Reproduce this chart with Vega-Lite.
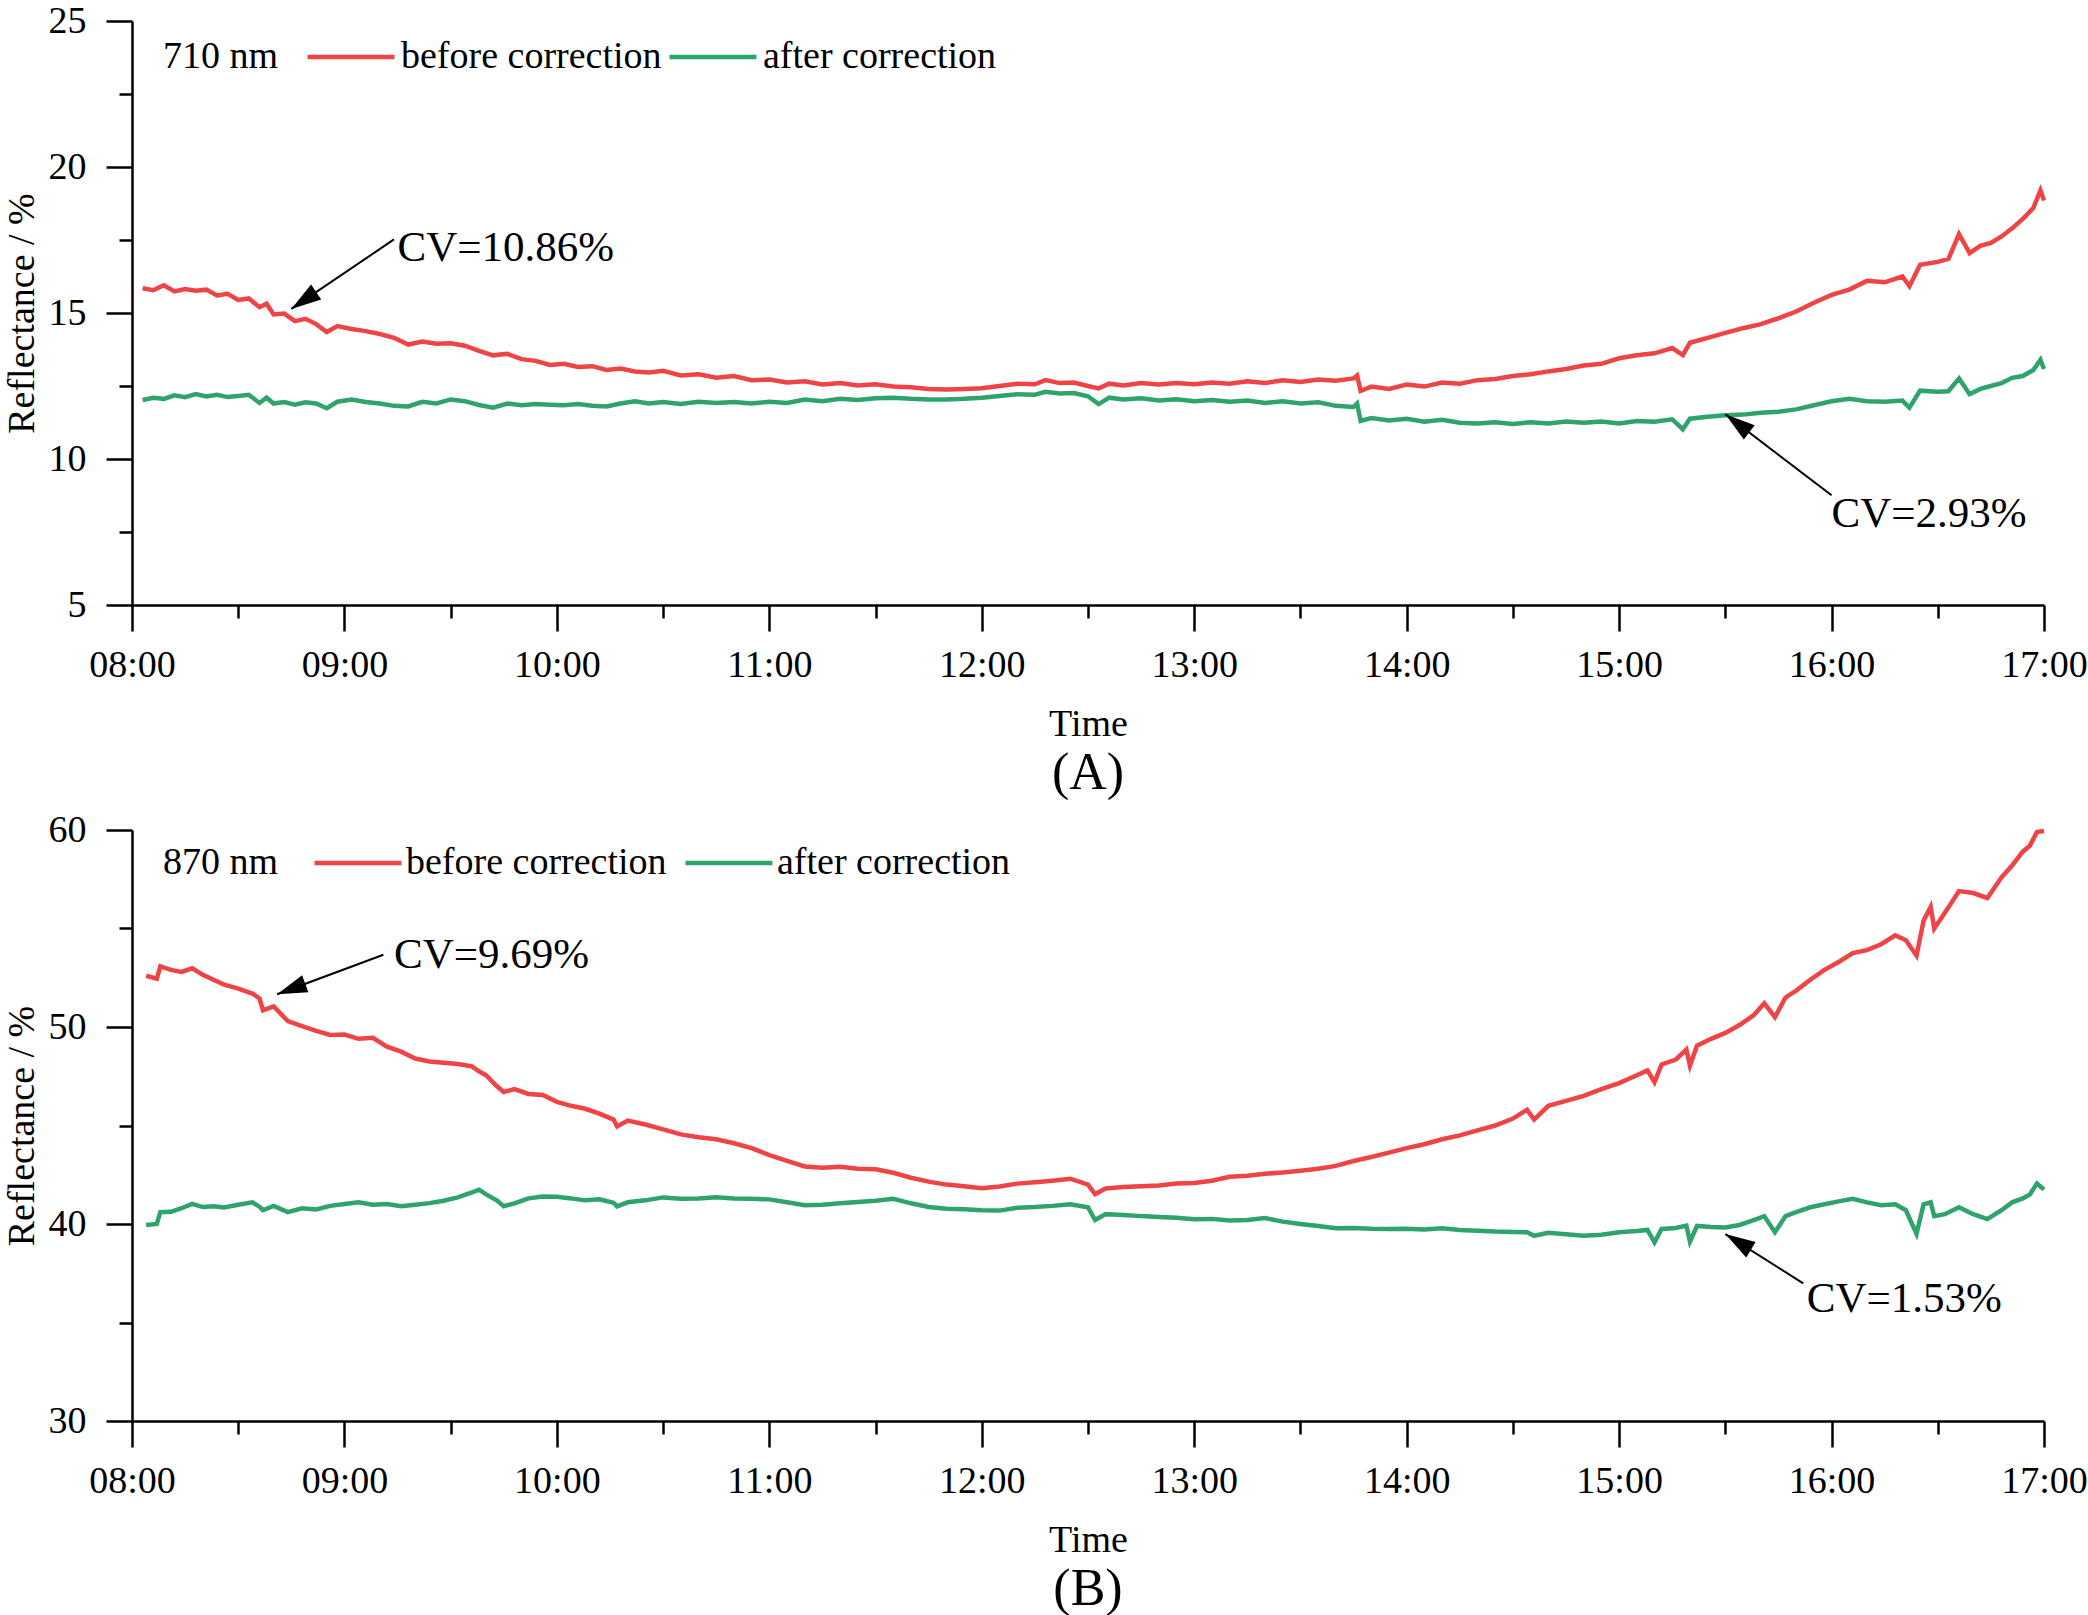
{
  "$schema": "https://vega.github.io/schema/vega-lite/v6.json",
  "background": "white",
  "padding": {"left": 3, "top": 2, "right": 0, "bottom": 0},
  "spacing": 12,
  "config": {
    "font": "Liberation Serif",
    "view": {"stroke": null},
    "axis": {
      "grid": false,
      "domainColor": "black",
      "domainWidth": 2.5,
      "tickColor": "black",
      "tickWidth": 2.5,
      "tickSize": 26,
      "labelColor": "black",
      "labelFont": "Liberation Serif",
      "labelFontSize": 38,
      "titleColor": "black",
      "titleFont": "Liberation Serif",
      "titleFontSize": 38,
      "titleFontWeight": "normal"
    },
    "legend": {
      "direction": "horizontal",
      "symbolType": "M-2.5,0H2.5",
      "symbolSize": 1211,
      "symbolStrokeWidth": 4.5,
      "labelFont": "Liberation Serif",
      "labelFontSize": 38,
      "labelColor": "black",
      "labelLimit": 0,
      "titleFont": "Liberation Serif",
      "titleFontSize": 38,
      "titleFontWeight": "normal",
      "titleColor": "black",
      "titleOrient": "left"
    },
    "title": {"font": "Liberation Serif", "fontSize": 52, "fontWeight": "normal", "color": "black"}
  },
  "vconcat": [
    {
      "width": 1912,
      "height": 584,
      "title": {"text": "(A)", "orient": "bottom", "offset": 5},
      "data": {
        "format": {"parse": {"time": "utc:'%H:%M'"}},
        "values": [
          {"time": "08:03", "before": 15.85, "after": 12.02},
          {"time": "08:06", "before": 15.78, "after": 12.10},
          {"time": "08:09", "before": 15.95, "after": 12.06},
          {"time": "08:12", "before": 15.74, "after": 12.18},
          {"time": "08:15", "before": 15.82, "after": 12.12},
          {"time": "08:18", "before": 15.76, "after": 12.22},
          {"time": "08:21", "before": 15.80, "after": 12.14},
          {"time": "08:24", "before": 15.60, "after": 12.20},
          {"time": "08:27", "before": 15.66, "after": 12.12},
          {"time": "08:30", "before": 15.45, "after": 12.16},
          {"time": "08:33", "before": 15.50, "after": 12.20},
          {"time": "08:36", "before": 15.20, "after": 11.92},
          {"time": "08:38", "before": 15.32, "after": 12.10},
          {"time": "08:40", "before": 14.95, "after": 11.90},
          {"time": "08:43", "before": 14.98, "after": 11.95},
          {"time": "08:46", "before": 14.72, "after": 11.86},
          {"time": "08:49", "before": 14.80, "after": 11.94},
          {"time": "08:52", "before": 14.62, "after": 11.90},
          {"time": "08:55", "before": 14.35, "after": 11.74},
          {"time": "08:58", "before": 14.55, "after": 11.96},
          {"time": "09:02", "before": 14.45, "after": 12.04},
          {"time": "09:06", "before": 14.38, "after": 11.95},
          {"time": "09:10", "before": 14.28, "after": 11.90},
          {"time": "09:14", "before": 14.15, "after": 11.82},
          {"time": "09:18", "before": 13.92, "after": 11.80},
          {"time": "09:22", "before": 14.02, "after": 11.96},
          {"time": "09:26", "before": 13.95, "after": 11.90},
          {"time": "09:30", "before": 13.96, "after": 12.04},
          {"time": "09:34", "before": 13.88, "after": 11.98},
          {"time": "09:38", "before": 13.70, "after": 11.85},
          {"time": "09:42", "before": 13.55, "after": 11.76},
          {"time": "09:46", "before": 13.60, "after": 11.90},
          {"time": "09:50", "before": 13.42, "after": 11.84},
          {"time": "09:54", "before": 13.36, "after": 11.88},
          {"time": "09:58", "before": 13.22, "after": 11.86},
          {"time": "10:02", "before": 13.26, "after": 11.84},
          {"time": "10:06", "before": 13.15, "after": 11.88},
          {"time": "10:10", "before": 13.18, "after": 11.82},
          {"time": "10:14", "before": 13.05, "after": 11.80},
          {"time": "10:18", "before": 13.10, "after": 11.90},
          {"time": "10:22", "before": 13.00, "after": 11.98},
          {"time": "10:26", "before": 12.96, "after": 11.90},
          {"time": "10:30", "before": 13.02, "after": 11.95},
          {"time": "10:35", "before": 12.86, "after": 11.88},
          {"time": "10:40", "before": 12.90, "after": 11.96},
          {"time": "10:45", "before": 12.78, "after": 11.92},
          {"time": "10:50", "before": 12.84, "after": 11.95},
          {"time": "10:55", "before": 12.70, "after": 11.90},
          {"time": "11:00", "before": 12.72, "after": 11.96},
          {"time": "11:05", "before": 12.62, "after": 11.92},
          {"time": "11:10", "before": 12.66, "after": 12.04},
          {"time": "11:15", "before": 12.55, "after": 11.98},
          {"time": "11:20", "before": 12.60, "after": 12.06},
          {"time": "11:25", "before": 12.52, "after": 12.02},
          {"time": "11:30", "before": 12.56, "after": 12.08},
          {"time": "11:35", "before": 12.48, "after": 12.10},
          {"time": "11:40", "before": 12.46, "after": 12.06},
          {"time": "11:45", "before": 12.40, "after": 12.04},
          {"time": "11:50", "before": 12.38, "after": 12.04},
          {"time": "11:55", "before": 12.40, "after": 12.06},
          {"time": "12:00", "before": 12.42, "after": 12.10},
          {"time": "12:05", "before": 12.50, "after": 12.16},
          {"time": "12:10", "before": 12.58, "after": 12.22},
          {"time": "12:15", "before": 12.56, "after": 12.20},
          {"time": "12:18", "before": 12.70, "after": 12.30},
          {"time": "12:22", "before": 12.60, "after": 12.24},
          {"time": "12:26", "before": 12.62, "after": 12.26},
          {"time": "12:30", "before": 12.50, "after": 12.15},
          {"time": "12:33", "before": 12.42, "after": 11.88},
          {"time": "12:36", "before": 12.58, "after": 12.10},
          {"time": "12:40", "before": 12.52, "after": 12.04},
          {"time": "12:45", "before": 12.60, "after": 12.08},
          {"time": "12:50", "before": 12.55, "after": 12.00},
          {"time": "12:55", "before": 12.60, "after": 12.05},
          {"time": "13:00", "before": 12.56, "after": 11.98},
          {"time": "13:05", "before": 12.62, "after": 12.02},
          {"time": "13:10", "before": 12.58, "after": 11.96},
          {"time": "13:15", "before": 12.66, "after": 12.00},
          {"time": "13:20", "before": 12.60, "after": 11.92},
          {"time": "13:25", "before": 12.70, "after": 11.98},
          {"time": "13:30", "before": 12.64, "after": 11.90},
          {"time": "13:35", "before": 12.72, "after": 11.94},
          {"time": "13:40", "before": 12.68, "after": 11.82},
          {"time": "13:45", "before": 12.76, "after": 11.78},
          {"time": "13:46", "before": 12.86, "after": 11.90},
          {"time": "13:47", "before": 12.33, "after": 11.30},
          {"time": "13:50", "before": 12.48, "after": 11.40},
          {"time": "13:55", "before": 12.40, "after": 11.32},
          {"time": "14:00", "before": 12.55, "after": 11.38},
          {"time": "14:05", "before": 12.48, "after": 11.28},
          {"time": "14:10", "before": 12.62, "after": 11.34},
          {"time": "14:15", "before": 12.58, "after": 11.24},
          {"time": "14:20", "before": 12.70, "after": 11.22},
          {"time": "14:25", "before": 12.74, "after": 11.26},
          {"time": "14:30", "before": 12.84, "after": 11.20},
          {"time": "14:35", "before": 12.90, "after": 11.26},
          {"time": "14:40", "before": 13.00, "after": 11.22},
          {"time": "14:45", "before": 13.08, "after": 11.28},
          {"time": "14:50", "before": 13.20, "after": 11.24},
          {"time": "14:55", "before": 13.26, "after": 11.28},
          {"time": "15:00", "before": 13.45, "after": 11.22},
          {"time": "15:05", "before": 13.55, "after": 11.30},
          {"time": "15:10", "before": 13.62, "after": 11.28},
          {"time": "15:15", "before": 13.80, "after": 11.36},
          {"time": "15:18", "before": 13.56, "after": 11.02},
          {"time": "15:20", "before": 13.98, "after": 11.38},
          {"time": "15:25", "before": 14.15, "after": 11.45},
          {"time": "15:30", "before": 14.32, "after": 11.50},
          {"time": "15:35", "before": 14.48, "after": 11.52},
          {"time": "15:40", "before": 14.62, "after": 11.58},
          {"time": "15:45", "before": 14.82, "after": 11.62},
          {"time": "15:50", "before": 15.05, "after": 11.70},
          {"time": "15:55", "before": 15.35, "after": 11.84},
          {"time": "16:00", "before": 15.62, "after": 11.98},
          {"time": "16:05", "before": 15.80, "after": 12.06},
          {"time": "16:10", "before": 16.10, "after": 11.98},
          {"time": "16:15", "before": 16.05, "after": 11.96},
          {"time": "16:20", "before": 16.25, "after": 12.00},
          {"time": "16:22", "before": 15.92, "after": 11.76},
          {"time": "16:25", "before": 16.65, "after": 12.34},
          {"time": "16:30", "before": 16.75, "after": 12.30},
          {"time": "16:33", "before": 16.85, "after": 12.32},
          {"time": "16:36", "before": 17.70, "after": 12.76},
          {"time": "16:39", "before": 17.05, "after": 12.22},
          {"time": "16:42", "before": 17.30, "after": 12.40},
          {"time": "16:45", "before": 17.40, "after": 12.50},
          {"time": "16:48", "before": 17.62, "after": 12.60},
          {"time": "16:51", "before": 17.90, "after": 12.78},
          {"time": "16:54", "before": 18.22, "after": 12.84},
          {"time": "16:57", "before": 18.60, "after": 13.05},
          {"time": "16:59", "before": 19.20, "after": 13.40},
          {"time": "17:00", "before": 18.85, "after": 13.08}
        ]
      },
      "layer": [
        {
          "transform": [{"fold": ["before", "after"], "as": ["series", "value"]}],
          "mark": {"type": "line", "strokeWidth": 4.5},
          "encoding": {
            "x": {
              "field": "time",
              "type": "temporal",
              "scale": {"type": "utc", "nice": false, "domain": [{"year": 1900, "month": 1, "date": 1, "hours": 8, "utc": true}, {"year": 1900, "month": 1, "date": 1, "hours": 17, "utc": true}]},
              "axis": {
                "title": "Time",
                "format": "%H:%M",
                "values": [
                  {"year": 1900, "month": 1, "date": 1, "hours": 8, "utc": true},
                  {"year": 1900, "month": 1, "date": 1, "hours": 8, "minutes": 30, "utc": true},
                  {"year": 1900, "month": 1, "date": 1, "hours": 9, "utc": true},
                  {"year": 1900, "month": 1, "date": 1, "hours": 9, "minutes": 30, "utc": true},
                  {"year": 1900, "month": 1, "date": 1, "hours": 10, "utc": true},
                  {"year": 1900, "month": 1, "date": 1, "hours": 10, "minutes": 30, "utc": true},
                  {"year": 1900, "month": 1, "date": 1, "hours": 11, "utc": true},
                  {"year": 1900, "month": 1, "date": 1, "hours": 11, "minutes": 30, "utc": true},
                  {"year": 1900, "month": 1, "date": 1, "hours": 12, "utc": true},
                  {"year": 1900, "month": 1, "date": 1, "hours": 12, "minutes": 30, "utc": true},
                  {"year": 1900, "month": 1, "date": 1, "hours": 13, "utc": true},
                  {"year": 1900, "month": 1, "date": 1, "hours": 13, "minutes": 30, "utc": true},
                  {"year": 1900, "month": 1, "date": 1, "hours": 14, "utc": true},
                  {"year": 1900, "month": 1, "date": 1, "hours": 14, "minutes": 30, "utc": true},
                  {"year": 1900, "month": 1, "date": 1, "hours": 15, "utc": true},
                  {"year": 1900, "month": 1, "date": 1, "hours": 15, "minutes": 30, "utc": true},
                  {"year": 1900, "month": 1, "date": 1, "hours": 16, "utc": true},
                  {"year": 1900, "month": 1, "date": 1, "hours": 16, "minutes": 30, "utc": true},
                  {"year": 1900, "month": 1, "date": 1, "hours": 17, "utc": true}
                ],
                "labelExpr": "utcminutes(datum.value) === 0 ? datum.label : ''",
                "tickDash": {"condition": {"test": "utcminutes(datum.value) === 0", "value": []}, "value": [13, 60]},
                "labelPadding": 15,
                "labelFlush": false,
                "labelOverlap": false,
                "titlePadding": 21
              }
            },
            "y": {
              "field": "value",
              "type": "quantitative",
              "scale": {"domain": [5, 25], "nice": false, "zero": false},
              "axis": {
                "title": "Reflectance / %",
                "values": [5, 7.5, 10, 12.5, 15, 17.5, 20, 22.5, 25],
                "labelExpr": "datum.value % 5 === 0 ? datum.label : ''",
                "tickDash": {"condition": {"test": "datum.value % 5 === 0", "value": []}, "value": [13, 60]},
                "labelPadding": 20,
                "titlePadding": 7
              }
            },
            "color": {
              "field": "series",
              "type": "nominal",
              "scale": {"domain": ["before", "after"], "range": ["#EF4446", "#2FA36C"]},
              "legend": {"title": "710 nm", "orient": "none", "legendX": 31, "legendY": 16, "titlePadding": 52, "labelOffset": 30, "columnPadding": -2, "labelExpr": "datum.label + ' correction'"}
            }
          }
        },
        {
          "data": {
            "format": {"parse": {"time": "utc:'%H:%M'", "t1": "utc:'%H:%M'", "t2": "utc:'%H:%M'"}},
            "values": [
              {"label": "CV=10.86%", "time": "09:15", "value": 17.24, "t1": "09:14", "v1": 17.52, "t2": "08:45", "v2": 15.14},
              {"label": "CV=2.93%", "time": "16:00", "value": 8.10, "t1": "16:00", "v1": 8.76, "t2": "15:30", "v2": 11.53}
            ]
          },
          "layer": [
            {
              "mark": {"type": "rule", "color": "black", "strokeWidth": 2},
              "encoding": {
                "x": {"field": "t1", "type": "temporal"},
                "y": {"field": "v1", "type": "quantitative"},
                "x2": {"field": "t2"},
                "y2": {"field": "v2"}
              }
            },
            {
              "transform": [{"filter": "datum.label === 'CV=10.86%'"}],
              "mark": {"type": "point", "shape": "M0,0L-0.6,2L0.6,2Z", "angle": 235.7, "filled": true, "color": "black", "opacity": 1, "size": 900},
              "encoding": {
                "x": {"field": "t2", "type": "temporal"},
                "y": {"field": "v2", "type": "quantitative"}
              }
            },
            {
              "transform": [{"filter": "datum.label === 'CV=2.93%'"}],
              "mark": {"type": "point", "shape": "M0,0L-0.6,2L0.6,2Z", "angle": 307.1, "filled": true, "color": "black", "opacity": 1, "size": 900},
              "encoding": {
                "x": {"field": "t2", "type": "temporal"},
                "y": {"field": "v2", "type": "quantitative"}
              }
            },
            {
              "mark": {"type": "text", "align": "left", "baseline": "middle", "fontSize": 43, "color": "black"},
              "encoding": {
                "x": {"field": "time", "type": "temporal"},
                "y": {"field": "value", "type": "quantitative"},
                "text": {"field": "label"}
              }
            }
          ]
        }
      ]
    },
    {
      "width": 1912,
      "height": 591,
      "title": {"text": "(B)", "orient": "bottom", "offset": 5},
      "data": {
        "format": {"parse": {"time": "utc:'%H:%M'"}},
        "values": [
          {"time": "08:04", "before": 52.60, "after": 39.95},
          {"time": "08:07", "before": 52.45, "after": 40.00},
          {"time": "08:08", "before": 53.08, "after": 40.60},
          {"time": "08:11", "before": 52.90, "after": 40.62},
          {"time": "08:14", "before": 52.80, "after": 40.80},
          {"time": "08:17", "before": 52.98, "after": 41.02},
          {"time": "08:20", "before": 52.65, "after": 40.86},
          {"time": "08:23", "before": 52.40, "after": 40.90},
          {"time": "08:26", "before": 52.15, "after": 40.84},
          {"time": "08:30", "before": 51.95, "after": 40.98},
          {"time": "08:34", "before": 51.70, "after": 41.10},
          {"time": "08:36", "before": 51.45, "after": 40.88},
          {"time": "08:37", "before": 50.85, "after": 40.70},
          {"time": "08:40", "before": 51.05, "after": 40.92},
          {"time": "08:44", "before": 50.30, "after": 40.60},
          {"time": "08:48", "before": 50.05, "after": 40.80},
          {"time": "08:52", "before": 49.80, "after": 40.74},
          {"time": "08:56", "before": 49.60, "after": 40.92},
          {"time": "09:00", "before": 49.62, "after": 41.02},
          {"time": "09:04", "before": 49.40, "after": 41.10},
          {"time": "09:08", "before": 49.45, "after": 40.98},
          {"time": "09:12", "before": 49.00, "after": 41.02},
          {"time": "09:16", "before": 48.75, "after": 40.90},
          {"time": "09:20", "before": 48.40, "after": 40.98},
          {"time": "09:24", "before": 48.25, "after": 41.06},
          {"time": "09:28", "before": 48.18, "after": 41.18},
          {"time": "09:32", "before": 48.12, "after": 41.35},
          {"time": "09:36", "before": 48.00, "after": 41.60},
          {"time": "09:38", "before": 47.75, "after": 41.74},
          {"time": "09:40", "before": 47.55, "after": 41.50},
          {"time": "09:43", "before": 47.00, "after": 41.20},
          {"time": "09:45", "before": 46.70, "after": 40.90},
          {"time": "09:48", "before": 46.85, "after": 41.05},
          {"time": "09:52", "before": 46.60, "after": 41.30},
          {"time": "09:56", "before": 46.55, "after": 41.40},
          {"time": "10:00", "before": 46.20, "after": 41.38},
          {"time": "10:04", "before": 46.00, "after": 41.30},
          {"time": "10:08", "before": 45.85, "after": 41.20},
          {"time": "10:12", "before": 45.60, "after": 41.25},
          {"time": "10:16", "before": 45.30, "after": 41.08},
          {"time": "10:17", "before": 44.95, "after": 40.90},
          {"time": "10:20", "before": 45.25, "after": 41.10},
          {"time": "10:25", "before": 45.05, "after": 41.20},
          {"time": "10:30", "before": 44.80, "after": 41.35},
          {"time": "10:35", "before": 44.55, "after": 41.28},
          {"time": "10:40", "before": 44.40, "after": 41.30},
          {"time": "10:45", "before": 44.30, "after": 41.36},
          {"time": "10:50", "before": 44.10, "after": 41.30},
          {"time": "10:55", "before": 43.85, "after": 41.28},
          {"time": "11:00", "before": 43.50, "after": 41.25},
          {"time": "11:05", "before": 43.20, "after": 41.10},
          {"time": "11:10", "before": 42.92, "after": 40.95},
          {"time": "11:15", "before": 42.85, "after": 40.98},
          {"time": "11:20", "before": 42.90, "after": 41.05},
          {"time": "11:25", "before": 42.80, "after": 41.12},
          {"time": "11:30", "before": 42.78, "after": 41.18},
          {"time": "11:35", "before": 42.60, "after": 41.28},
          {"time": "11:40", "before": 42.35, "after": 41.05},
          {"time": "11:45", "before": 42.15, "after": 40.86},
          {"time": "11:50", "before": 42.00, "after": 40.78},
          {"time": "11:55", "before": 41.92, "after": 40.75},
          {"time": "12:00", "before": 41.82, "after": 40.70},
          {"time": "12:05", "before": 41.90, "after": 40.68},
          {"time": "12:10", "before": 42.05, "after": 40.82},
          {"time": "12:15", "before": 42.12, "after": 40.86},
          {"time": "12:20", "before": 42.20, "after": 40.92},
          {"time": "12:25", "before": 42.30, "after": 41.00},
          {"time": "12:30", "before": 42.00, "after": 40.85},
          {"time": "12:32", "before": 41.52, "after": 40.20},
          {"time": "12:35", "before": 41.80, "after": 40.50},
          {"time": "12:40", "before": 41.88, "after": 40.46},
          {"time": "12:45", "before": 41.92, "after": 40.40},
          {"time": "12:50", "before": 41.96, "after": 40.36},
          {"time": "12:55", "before": 42.05, "after": 40.32},
          {"time": "13:00", "before": 42.08, "after": 40.24},
          {"time": "13:05", "before": 42.20, "after": 40.26},
          {"time": "13:10", "before": 42.40, "after": 40.18},
          {"time": "13:15", "before": 42.45, "after": 40.20},
          {"time": "13:20", "before": 42.55, "after": 40.30},
          {"time": "13:25", "before": 42.62, "after": 40.12},
          {"time": "13:30", "before": 42.70, "after": 40.00},
          {"time": "13:35", "before": 42.80, "after": 39.90},
          {"time": "13:40", "before": 42.95, "after": 39.78},
          {"time": "13:45", "before": 43.20, "after": 39.80},
          {"time": "13:50", "before": 43.40, "after": 39.76},
          {"time": "13:55", "before": 43.62, "after": 39.74},
          {"time": "14:00", "before": 43.85, "after": 39.76},
          {"time": "14:05", "before": 44.05, "after": 39.72},
          {"time": "14:10", "before": 44.30, "after": 39.78},
          {"time": "14:15", "before": 44.50, "after": 39.70},
          {"time": "14:20", "before": 44.75, "after": 39.66},
          {"time": "14:25", "before": 45.00, "after": 39.62},
          {"time": "14:30", "before": 45.35, "after": 39.60},
          {"time": "14:34", "before": 45.80, "after": 39.58},
          {"time": "14:36", "before": 45.30, "after": 39.40},
          {"time": "14:40", "before": 46.00, "after": 39.55},
          {"time": "14:45", "before": 46.25, "after": 39.48},
          {"time": "14:50", "before": 46.50, "after": 39.40},
          {"time": "14:55", "before": 46.85, "after": 39.45},
          {"time": "15:00", "before": 47.15, "after": 39.58},
          {"time": "15:05", "before": 47.55, "after": 39.64},
          {"time": "15:08", "before": 47.80, "after": 39.70},
          {"time": "15:10", "before": 47.20, "after": 39.07},
          {"time": "15:12", "before": 48.10, "after": 39.75},
          {"time": "15:16", "before": 48.35, "after": 39.80},
          {"time": "15:19", "before": 48.85, "after": 39.92},
          {"time": "15:20", "before": 48.04, "after": 39.10},
          {"time": "15:22", "before": 49.05, "after": 39.90},
          {"time": "15:26", "before": 49.40, "after": 39.85},
          {"time": "15:30", "before": 49.70, "after": 39.82},
          {"time": "15:34", "before": 50.10, "after": 39.95},
          {"time": "15:38", "before": 50.60, "after": 40.20},
          {"time": "15:41", "before": 51.20, "after": 40.40},
          {"time": "15:44", "before": 50.50, "after": 39.58},
          {"time": "15:47", "before": 51.50, "after": 40.40},
          {"time": "15:50", "before": 51.85, "after": 40.60},
          {"time": "15:54", "before": 52.40, "after": 40.85},
          {"time": "15:58", "before": 52.90, "after": 41.00},
          {"time": "16:02", "before": 53.30, "after": 41.15},
          {"time": "16:06", "before": 53.75, "after": 41.28},
          {"time": "16:10", "before": 53.90, "after": 41.10},
          {"time": "16:14", "before": 54.20, "after": 40.95},
          {"time": "16:18", "before": 54.65, "after": 41.00},
          {"time": "16:21", "before": 54.40, "after": 40.70},
          {"time": "16:24", "before": 53.62, "after": 39.50},
          {"time": "16:26", "before": 55.40, "after": 41.00},
          {"time": "16:28", "before": 56.10, "after": 41.10},
          {"time": "16:29", "before": 55.00, "after": 40.40},
          {"time": "16:32", "before": 55.80, "after": 40.50},
          {"time": "16:36", "before": 56.90, "after": 40.85},
          {"time": "16:40", "before": 56.80, "after": 40.50},
          {"time": "16:44", "before": 56.55, "after": 40.25},
          {"time": "16:48", "before": 57.60, "after": 40.70},
          {"time": "16:51", "before": 58.20, "after": 41.10},
          {"time": "16:54", "before": 58.90, "after": 41.30},
          {"time": "16:56", "before": 59.20, "after": 41.50},
          {"time": "16:58", "before": 59.90, "after": 42.05},
          {"time": "17:00", "before": 59.95, "after": 41.75}
        ]
      },
      "layer": [
        {
          "transform": [{"fold": ["before", "after"], "as": ["series", "value"]}],
          "mark": {"type": "line", "strokeWidth": 4.5},
          "encoding": {
            "x": {
              "field": "time",
              "type": "temporal",
              "scale": {"type": "utc", "nice": false, "domain": [{"year": 1900, "month": 1, "date": 1, "hours": 8, "utc": true}, {"year": 1900, "month": 1, "date": 1, "hours": 17, "utc": true}]},
              "axis": {
                "title": "Time",
                "format": "%H:%M",
                "values": [
                  {"year": 1900, "month": 1, "date": 1, "hours": 8, "utc": true},
                  {"year": 1900, "month": 1, "date": 1, "hours": 8, "minutes": 30, "utc": true},
                  {"year": 1900, "month": 1, "date": 1, "hours": 9, "utc": true},
                  {"year": 1900, "month": 1, "date": 1, "hours": 9, "minutes": 30, "utc": true},
                  {"year": 1900, "month": 1, "date": 1, "hours": 10, "utc": true},
                  {"year": 1900, "month": 1, "date": 1, "hours": 10, "minutes": 30, "utc": true},
                  {"year": 1900, "month": 1, "date": 1, "hours": 11, "utc": true},
                  {"year": 1900, "month": 1, "date": 1, "hours": 11, "minutes": 30, "utc": true},
                  {"year": 1900, "month": 1, "date": 1, "hours": 12, "utc": true},
                  {"year": 1900, "month": 1, "date": 1, "hours": 12, "minutes": 30, "utc": true},
                  {"year": 1900, "month": 1, "date": 1, "hours": 13, "utc": true},
                  {"year": 1900, "month": 1, "date": 1, "hours": 13, "minutes": 30, "utc": true},
                  {"year": 1900, "month": 1, "date": 1, "hours": 14, "utc": true},
                  {"year": 1900, "month": 1, "date": 1, "hours": 14, "minutes": 30, "utc": true},
                  {"year": 1900, "month": 1, "date": 1, "hours": 15, "utc": true},
                  {"year": 1900, "month": 1, "date": 1, "hours": 15, "minutes": 30, "utc": true},
                  {"year": 1900, "month": 1, "date": 1, "hours": 16, "utc": true},
                  {"year": 1900, "month": 1, "date": 1, "hours": 16, "minutes": 30, "utc": true},
                  {"year": 1900, "month": 1, "date": 1, "hours": 17, "utc": true}
                ],
                "labelExpr": "utcminutes(datum.value) === 0 ? datum.label : ''",
                "tickDash": {"condition": {"test": "utcminutes(datum.value) === 0", "value": []}, "value": [13, 60]},
                "labelPadding": 15,
                "labelFlush": false,
                "labelOverlap": false,
                "titlePadding": 21
              }
            },
            "y": {
              "field": "value",
              "type": "quantitative",
              "scale": {"domain": [30, 60], "nice": false, "zero": false},
              "axis": {
                "title": "Reflectance / %",
                "values": [30, 35, 40, 45, 50, 55, 60],
                "labelExpr": "datum.value % 10 === 0 ? datum.label : ''",
                "tickDash": {"condition": {"test": "datum.value % 10 === 0", "value": []}, "value": [13, 60]},
                "labelPadding": 20,
                "titlePadding": 7
              }
            },
            "color": {
              "field": "series",
              "type": "nominal",
              "scale": {"domain": ["before", "after"], "range": ["#EF4446", "#2FA36C"]},
              "legend": {"title": "870 nm", "orient": "none", "legendX": 31, "legendY": 13, "titlePadding": 59, "labelOffset": 28, "columnPadding": 9, "labelExpr": "datum.label + ' correction'"}
            }
          }
        },
        {
          "data": {
            "format": {"parse": {"time": "utc:'%H:%M'", "t1": "utc:'%H:%M'", "t2": "utc:'%H:%M'"}},
            "values": [
              {"label": "CV=9.69%", "time": "09:14", "value": 53.65, "t1": "09:11", "v1": 53.67, "t2": "08:41", "v2": 51.66},
              {"label": "CV=1.53%", "time": "15:53", "value": 36.17, "t1": "15:52", "v1": 36.99, "t2": "15:30", "v2": 39.49}
            ]
          },
          "layer": [
            {
              "mark": {"type": "rule", "color": "black", "strokeWidth": 2},
              "encoding": {
                "x": {"field": "t1", "type": "temporal"},
                "y": {"field": "v1", "type": "quantitative"},
                "x2": {"field": "t2"},
                "y2": {"field": "v2"}
              }
            },
            {
              "transform": [{"filter": "datum.label === 'CV=9.69%'"}],
              "mark": {"type": "point", "shape": "M0,0L-0.6,2L0.6,2Z", "angle": 249.5, "filled": true, "color": "black", "opacity": 1, "size": 900},
              "encoding": {
                "x": {"field": "t2", "type": "temporal"},
                "y": {"field": "v2", "type": "quantitative"}
              }
            },
            {
              "transform": [{"filter": "datum.label === 'CV=1.53%'"}],
              "mark": {"type": "point", "shape": "M0,0L-0.6,2L0.6,2Z", "angle": 301.5, "filled": true, "color": "black", "opacity": 1, "size": 900},
              "encoding": {
                "x": {"field": "t2", "type": "temporal"},
                "y": {"field": "v2", "type": "quantitative"}
              }
            },
            {
              "mark": {"type": "text", "align": "left", "baseline": "middle", "fontSize": 43, "color": "black"},
              "encoding": {
                "x": {"field": "time", "type": "temporal"},
                "y": {"field": "value", "type": "quantitative"},
                "text": {"field": "label"}
              }
            }
          ]
        }
      ]
    }
  ],
  "resolve": {"scale": {"color": "independent"}, "legend": {"color": "independent"}}
}
